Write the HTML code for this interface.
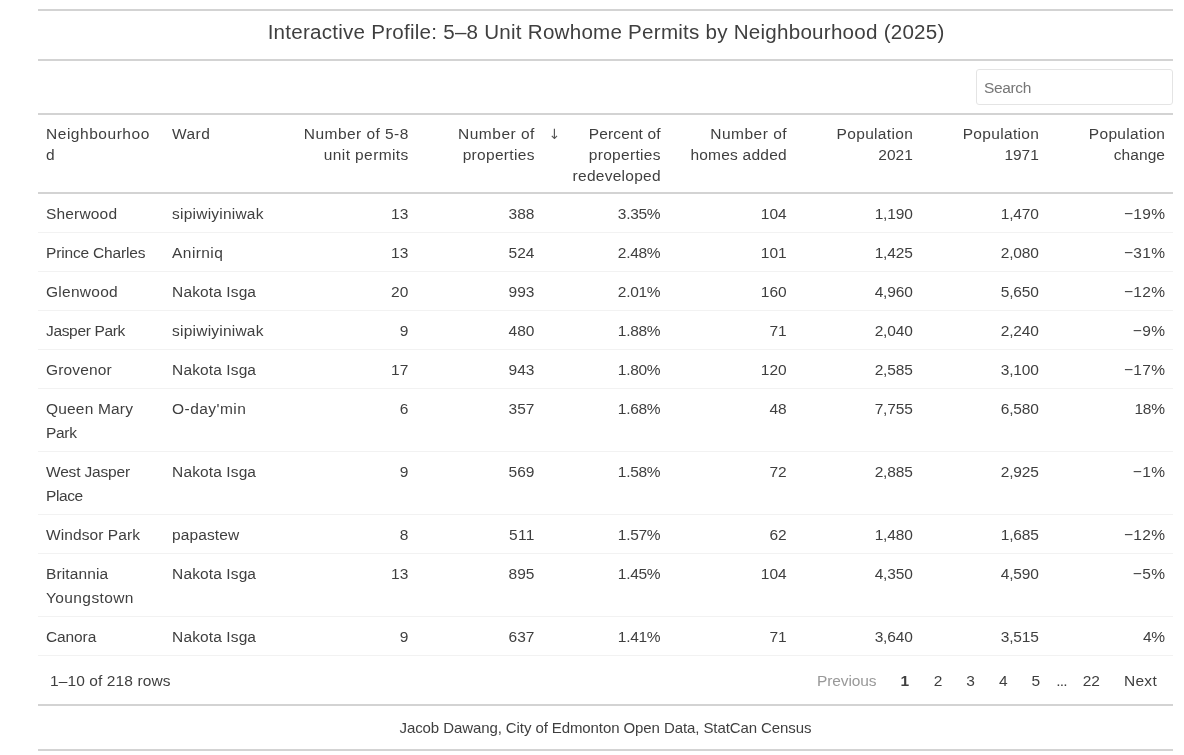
<!DOCTYPE html>
<html lang="en">
<head>
<meta charset="utf-8">
<title>Interactive Profile: 5–8 Unit Rowhome Permits by Neighbourhood (2025)</title>
<style>
  html, body { margin: 0; padding: 0; background: #fff; }
  body {
    width: 1184px; height: 755px; overflow: hidden; position: relative;
    font-family: "Liberation Sans", "DejaVu Sans", sans-serif;
    font-size: 15.5px; line-height: 24px; color: #3f3f3f;
  }
  .wrap { position: absolute; left: 38px; top: 9px; width: 1135px; will-change: transform; }
  .t { display: inline-block; white-space: nowrap; }
  .title {
    border-top: 2px solid #d3d3d3; border-bottom: 2px solid #d3d3d3;
    height: 48px; line-height: 41px; text-align: center;
    font-size: 20.58px; white-space: nowrap; padding-left: 1px;
  }
  .searchbar { height: 52px; position: relative; }
  .search {
    position: absolute; right: 0; top: 8px; box-sizing: border-box;
    width: 197px; height: 36px; border: 1px solid #e4e4e4; border-radius: 3px;
    padding: 0 7px; line-height: 36px; color: #767676; background: #fff;
  }
  .thead {
    display: flex; border-top: 2px solid #d3d3d3; border-bottom: 2px solid #d3d3d3;
    height: 77px; box-sizing: content-box;
  }
  .th, .td { flex: 1 1 0; min-width: 0; padding: 8px 8px 6px; box-sizing: border-box; position: relative; white-space: nowrap; }
  .th { line-height: 21px; }
  .r { text-align: right; }
  .tr { display: flex; border-top: 1px solid #f2f2f2; }
  .tr.first { border-top: 0; }
  .td { line-height: 24px; }
  .sort { position: absolute; left: 132.3px; top: 8.6px; font-family: "DejaVu Sans", sans-serif; font-size: 14px; line-height: 21px; color: #555; }
  .pag { border-top: 1px solid #f2f2f2; height: 48px; box-sizing: content-box; position: relative; }
  .info { position: absolute; left: 12px; top: 13px; line-height: 24px; }
  .pb { position: absolute; top: 13px; line-height: 24px; white-space: nowrap; }
  .footer {
    border-top: 2px solid #d3d3d3; border-bottom: 2px solid #d3d3d3;
    height: 43px; line-height: 43px; text-align: center; font-size: 14.82px; white-space: nowrap;
  }
</style>
</head>
<body>
<div class="wrap">
  <div class="title"><span class="t" style="letter-spacing:0.246px;margin-right:-0.246px;">Interactive Profile: 5–8 Unit Rowhome Permits by Neighbourhood (2025)</span></div>
  <div class="searchbar"><div class="search"><span class="t" style="letter-spacing:-0.354px;">Search</span></div></div>
  <div class="thead">
    <div class="th"><span class="t" style="letter-spacing:0.538px;">Neighbourhoo</span><br><span class="t" style="letter-spacing:0.797px;">d</span></div>
    <div class="th"><span class="t" style="letter-spacing:0.412px;">Ward</span></div>
    <div class="th r"><span class="t" style="letter-spacing:0.448px;margin-right:-0.448px;">Number of 5-8</span><br><span class="t" style="letter-spacing:0.401px;margin-right:-0.401px;">unit permits</span></div>
    <div class="th r"><span class="t" style="letter-spacing:0.499px;margin-right:-0.499px;">Number of</span><br><span class="t" style="letter-spacing:0.32px;margin-right:-0.32px;">properties</span><span class="sort">↓</span></div>
    <div class="th r"><span class="t" style="letter-spacing:0.122px;margin-right:-0.122px;">Percent of</span><br><span class="t" style="letter-spacing:0.32px;margin-right:-0.32px;">properties</span><br><span class="t" style="letter-spacing:0.261px;margin-right:-0.261px;">redeveloped</span></div>
    <div class="th r"><span class="t" style="letter-spacing:0.499px;margin-right:-0.499px;">Number of</span><br><span class="t" style="letter-spacing:0.232px;margin-right:-0.232px;">homes added</span></div>
    <div class="th r"><span class="t" style="letter-spacing:0.324px;margin-right:-0.324px;">Population</span><br><span class="t" style="letter-spacing:0.004px;margin-right:-0.004px;">2021</span></div>
    <div class="th r"><span class="t" style="letter-spacing:0.324px;margin-right:-0.324px;">Population</span><br><span class="t" style="letter-spacing:0.004px;margin-right:-0.004px;">1971</span></div>
    <div class="th r"><span class="t" style="letter-spacing:0.324px;margin-right:-0.324px;">Population</span><br><span class="t" style="letter-spacing:0.09px;margin-right:-0.09px;">change</span></div>
  </div>
  <div class="tbody">
    <div class="tr first"><div class="td"><span class="t" style="letter-spacing:0.173px;">Sherwood</span></div><div class="td"><span class="t" style="letter-spacing:0.216px;">sipiwiyiniwak</span></div><div class="td r"><span class="t">13</span></div><div class="td r"><span class="t">388</span></div><div class="td r"><span class="t" style="letter-spacing:-0.305px;margin-right:0.305px;">3.35%</span></div><div class="td r"><span class="t">104</span></div><div class="td r"><span class="t" style="letter-spacing:-0.166px;margin-right:0.166px;">1,190</span></div><div class="td r"><span class="t" style="letter-spacing:-0.166px;margin-right:0.166px;">1,470</span></div><div class="td r"><span class="t" style="letter-spacing:0.301px;margin-right:-0.301px;">−19%</span></div></div>
    <div class="tr"><div class="td"><span class="t" style="letter-spacing:-0.171px;">Prince Charles</span></div><div class="td"><span class="t" style="letter-spacing:0.412px;">Anirniq</span></div><div class="td r"><span class="t">13</span></div><div class="td r"><span class="t">524</span></div><div class="td r"><span class="t" style="letter-spacing:-0.305px;margin-right:0.305px;">2.48%</span></div><div class="td r"><span class="t">101</span></div><div class="td r"><span class="t" style="letter-spacing:-0.166px;margin-right:0.166px;">1,425</span></div><div class="td r"><span class="t" style="letter-spacing:-0.166px;margin-right:0.166px;">2,080</span></div><div class="td r"><span class="t" style="letter-spacing:0.301px;margin-right:-0.301px;">−31%</span></div></div>
    <div class="tr"><div class="td"><span class="t" style="letter-spacing:0.271px;">Glenwood</span></div><div class="td"><span class="t" style="letter-spacing:0.116px;">Nakota Isga</span></div><div class="td r"><span class="t">20</span></div><div class="td r"><span class="t">993</span></div><div class="td r"><span class="t" style="letter-spacing:-0.305px;margin-right:0.305px;">2.01%</span></div><div class="td r"><span class="t">160</span></div><div class="td r"><span class="t" style="letter-spacing:-0.166px;margin-right:0.166px;">4,960</span></div><div class="td r"><span class="t" style="letter-spacing:-0.166px;margin-right:0.166px;">5,650</span></div><div class="td r"><span class="t" style="letter-spacing:0.301px;margin-right:-0.301px;">−12%</span></div></div>
    <div class="tr"><div class="td"><span class="t" style="letter-spacing:-0.339px;">Jasper Park</span></div><div class="td"><span class="t" style="letter-spacing:0.216px;">sipiwiyiniwak</span></div><div class="td r"><span class="t">9</span></div><div class="td r"><span class="t">480</span></div><div class="td r"><span class="t" style="letter-spacing:-0.305px;margin-right:0.305px;">1.88%</span></div><div class="td r"><span class="t">71</span></div><div class="td r"><span class="t" style="letter-spacing:-0.166px;margin-right:0.166px;">2,040</span></div><div class="td r"><span class="t" style="letter-spacing:-0.166px;margin-right:0.166px;">2,240</span></div><div class="td r"><span class="t" style="letter-spacing:0.396px;margin-right:-0.396px;">−9%</span></div></div>
    <div class="tr"><div class="td"><span class="t" style="letter-spacing:0.162px;">Grovenor</span></div><div class="td"><span class="t" style="letter-spacing:0.116px;">Nakota Isga</span></div><div class="td r"><span class="t">17</span></div><div class="td r"><span class="t">943</span></div><div class="td r"><span class="t" style="letter-spacing:-0.305px;margin-right:0.305px;">1.80%</span></div><div class="td r"><span class="t">120</span></div><div class="td r"><span class="t" style="letter-spacing:-0.166px;margin-right:0.166px;">2,585</span></div><div class="td r"><span class="t" style="letter-spacing:-0.166px;margin-right:0.166px;">3,100</span></div><div class="td r"><span class="t" style="letter-spacing:0.301px;margin-right:-0.301px;">−17%</span></div></div>
    <div class="tr"><div class="td"><span class="t" style="letter-spacing:0.177px;">Queen Mary</span><br><span class="t" style="letter-spacing:-0.314px;">Park</span></div><div class="td"><span class="t" style="letter-spacing:0.44px;">O-day'min</span></div><div class="td r"><span class="t">6</span></div><div class="td r"><span class="t">357</span></div><div class="td r"><span class="t" style="letter-spacing:-0.305px;margin-right:0.305px;">1.68%</span></div><div class="td r"><span class="t">48</span></div><div class="td r"><span class="t" style="letter-spacing:-0.166px;margin-right:0.166px;">7,755</span></div><div class="td r"><span class="t" style="letter-spacing:-0.166px;margin-right:0.166px;">6,580</span></div><div class="td r"><span class="t" style="letter-spacing:-0.232px;margin-right:0.232px;">18%</span></div></div>
    <div class="tr"><div class="td"><span class="t" style="letter-spacing:-0.176px;">West Jasper</span><br><span class="t" style="letter-spacing:-0.409px;">Place</span></div><div class="td"><span class="t" style="letter-spacing:0.116px;">Nakota Isga</span></div><div class="td r"><span class="t">9</span></div><div class="td r"><span class="t">569</span></div><div class="td r"><span class="t" style="letter-spacing:-0.305px;margin-right:0.305px;">1.58%</span></div><div class="td r"><span class="t">72</span></div><div class="td r"><span class="t" style="letter-spacing:-0.166px;margin-right:0.166px;">2,885</span></div><div class="td r"><span class="t" style="letter-spacing:-0.166px;margin-right:0.166px;">2,925</span></div><div class="td r"><span class="t" style="letter-spacing:0.396px;margin-right:-0.396px;">−1%</span></div></div>
    <div class="tr"><div class="td"><span class="t" style="letter-spacing:0.085px;">Windsor Park</span></div><div class="td"><span class="t" style="letter-spacing:0.106px;">papastew</span></div><div class="td r"><span class="t">8</span></div><div class="td r"><span class="t" style="letter-spacing:0.385px;margin-right:-0.385px;">511</span></div><div class="td r"><span class="t" style="letter-spacing:-0.305px;margin-right:0.305px;">1.57%</span></div><div class="td r"><span class="t">62</span></div><div class="td r"><span class="t" style="letter-spacing:-0.166px;margin-right:0.166px;">1,480</span></div><div class="td r"><span class="t" style="letter-spacing:-0.166px;margin-right:0.166px;">1,685</span></div><div class="td r"><span class="t" style="letter-spacing:0.301px;margin-right:-0.301px;">−12%</span></div></div>
    <div class="tr"><div class="td"><span class="t" style="letter-spacing:0.12px;">Britannia</span><br><span class="t" style="letter-spacing:0.399px;">Youngstown</span></div><div class="td"><span class="t" style="letter-spacing:0.116px;">Nakota Isga</span></div><div class="td r"><span class="t">13</span></div><div class="td r"><span class="t">895</span></div><div class="td r"><span class="t" style="letter-spacing:-0.305px;margin-right:0.305px;">1.45%</span></div><div class="td r"><span class="t">104</span></div><div class="td r"><span class="t" style="letter-spacing:-0.166px;margin-right:0.166px;">4,350</span></div><div class="td r"><span class="t" style="letter-spacing:-0.166px;margin-right:0.166px;">4,590</span></div><div class="td r"><span class="t" style="letter-spacing:0.396px;margin-right:-0.396px;">−5%</span></div></div>
    <div class="tr"><div class="td"><span class="t" style="letter-spacing:-0.113px;">Canora</span></div><div class="td"><span class="t" style="letter-spacing:0.116px;">Nakota Isga</span></div><div class="td r"><span class="t">9</span></div><div class="td r"><span class="t">637</span></div><div class="td r"><span class="t" style="letter-spacing:-0.305px;margin-right:0.305px;">1.41%</span></div><div class="td r"><span class="t">71</span></div><div class="td r"><span class="t" style="letter-spacing:-0.166px;margin-right:0.166px;">3,640</span></div><div class="td r"><span class="t" style="letter-spacing:-0.166px;margin-right:0.166px;">3,515</span></div><div class="td r"><span class="t" style="letter-spacing:-0.348px;margin-right:0.348px;">4%</span></div></div>
  </div>
  <div class="pag">
    <div class="info"><span class="t" style="letter-spacing:0.102px;">1–10 of 218 rows</span></div>
    <div class="pb" style="left:778.91px;color:#999;"><span class="t" style="letter-spacing:-0.085px;">Previous</span></div>
    <div class="pb" style="left:862.54px;"><span class="t" style="letter-spacing:0.578px;font-weight:bold;">1</span></div>
    <div class="pb" style="left:895.74px;"><span class="t">2</span></div>
    <div class="pb" style="left:928.37px;"><span class="t">3</span></div>
    <div class="pb" style="left:960.99px;"><span class="t">4</span></div>
    <div class="pb" style="left:993.62px;"><span class="t">5</span></div>
    <div class="pb" style="left:1018.24px;"><span class="t" style="letter-spacing:-0.839px;">...</span></div>
    <div class="pb" style="left:1044.65px;"><span class="t">22</span></div>
    <div class="pb" style="left:1085.9px;"><span class="t" style="letter-spacing:0.307px;">Next</span></div>
  </div>
  <div class="footer"><span class="t" style="letter-spacing:-0.091px;margin-right:0.091px;font-size:15.0px;">Jacob Dawang, City of Edmonton Open Data, StatCan Census</span></div>
</div>
</body>
</html>
